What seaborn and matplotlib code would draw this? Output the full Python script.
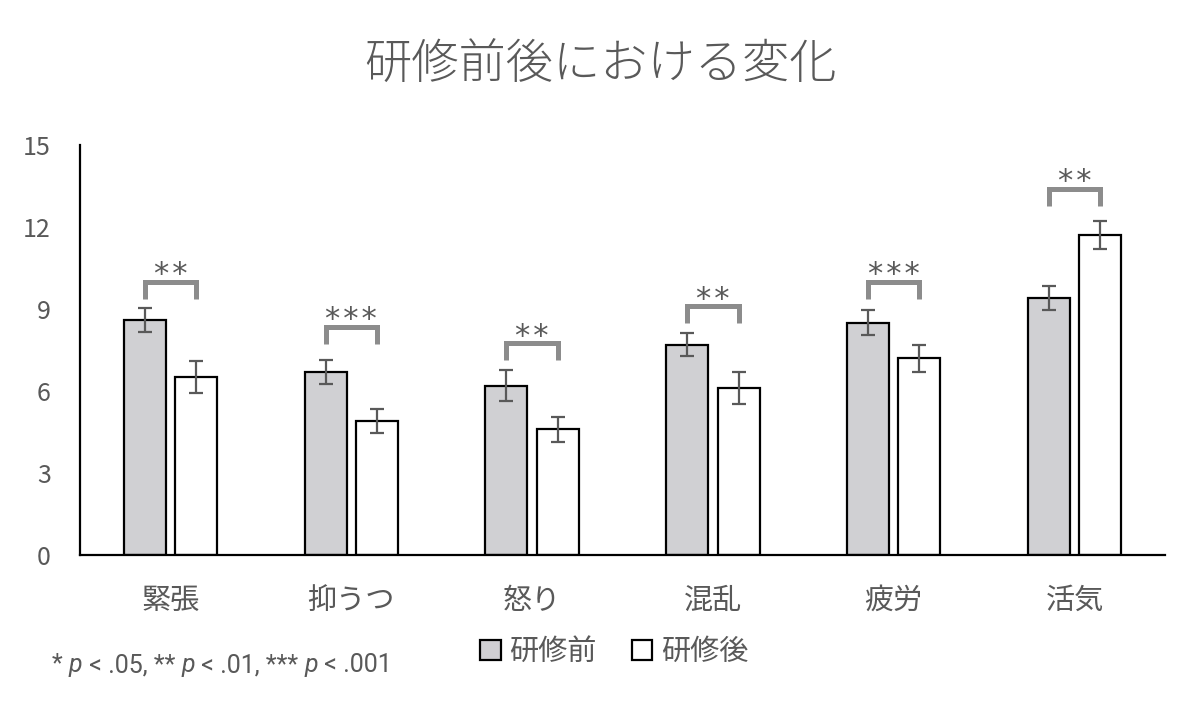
import matplotlib
matplotlib.use("Agg")
import matplotlib.pyplot as plt
import seaborn as sns
import pandas as pd
import numpy as np
from matplotlib.patches import Patch

# ---- data ----
categories = ["緊張", "抑うつ", "怒り", "混乱", "疲労", "活気"]
groups = ["研修前", "研修後"]
before_mean = [8.6, 6.7, 6.2, 7.7, 8.5, 9.4]
after_mean = [6.5, 4.9, 4.6, 6.1, 7.2, 11.7]
before_err = [0.44, 0.43, 0.55, 0.43, 0.45, 0.43]
after_err = [0.58, 0.45, 0.45, 0.58, 0.50, 0.52]
significance = ["**", "***", "**", "**", "***", "**"]
bracket_level = [10.0, 8.35, 7.75, 9.1, 10.0, 13.4]
yticks = [0, 3, 6, 9, 12, 15]
title = "研修前後における変化"
footnote_parts = ["* ", "p", " < .05, ** ", "p", " < .01, *** ", "p", " < .001"]

sns.set_theme(style="white")
plt.rcParams["font.family"] = ["Noto Sans CJK JP", "DejaVu Sans"]

TXT = "#595959"
GRAY_FILL = "#d0cfd3"

df = pd.DataFrame({
    "category": categories * 2,
    "group": [groups[0]] * len(categories) + [groups[1]] * len(categories),
    "value": before_mean + after_mean,
})

fig = plt.figure(figsize=(12, 7.22), dpi=100)
ax = fig.add_axes([0.0667, 0.2313, 0.9041, 0.5679])

sns.barplot(data=df, x="category", y="value", hue="group", order=categories,
            hue_order=groups, palette=[GRAY_FILL, "white"], width=0.57, gap=0.185,
            errorbar=None, edgecolor="black", linewidth=1.6, legend=False, ax=ax)

# bar centres from patches (first half = before, second half = after)
patches = [p for p in ax.patches if p.get_height() > 0]
n = len(categories)
bx = [p.get_x() + p.get_width() / 2 for p in patches[:n]]
ax_ = [p.get_x() + p.get_width() / 2 for p in patches[n:2 * n]]

ax.errorbar(bx, before_mean, yerr=before_err, fmt="none", ecolor="#595959",
            elinewidth=1.6, capsize=5, capthick=1.6, zorder=5)
ax.errorbar(ax_, after_mean, yerr=after_err, fmt="none", ecolor="#595959",
            elinewidth=1.6, capsize=5, capthick=1.6, zorder=5)

# significance brackets
for i in range(n):
    top = bracket_level[i]
    leg = top - 0.63
    ax.plot([bx[i], bx[i], ax_[i], ax_[i]], [leg, top, top, leg],
            color="#8c8c8c", lw=3.6, solid_joinstyle="miter", solid_capstyle="butt",
            zorder=5, clip_on=False)
    ax.text((bx[i] + ax_[i]) / 2, top - 0.06, "\u200a".join(significance[i]),
            ha="center", va="baseline", fontsize=22, color=TXT, family="DejaVu Sans")

ax.set_ylim(0, 15)
ax.set_xlim(-0.5, len(categories) - 0.5)
ax.set_yticks(yticks)
ax.set_yticklabels([str(t) for t in yticks], fontsize=18, color=TXT)
ax.tick_params(axis="y", direction="in", length=7, width=1.5, color="black", pad=21)
ax.tick_params(axis="x", length=0, pad=22, labelsize=21, labelcolor=TXT)
ax.set_xlabel("")
ax.set_ylabel("")
for s in ["top", "right"]:
    ax.spines[s].set_visible(False)
for s in ["left", "bottom"]:
    ax.spines[s].set_color("black")
    ax.spines[s].set_linewidth(1.6)

fig.text(0.5, 0.91, title, ha="center", va="center", fontsize=34, color=TXT,
         fontweight="light")

handles = [Patch(facecolor=GRAY_FILL, edgecolor="black", linewidth=1.6, label=groups[0]),
           Patch(facecolor="white", edgecolor="black", linewidth=1.6, label=groups[1])]
fig.legend(handles=handles, loc="center", bbox_to_anchor=(0.512, 0.097), ncol=2,
           frameon=False, fontsize=21, labelcolor=TXT, handlelength=0.7,
           handleheight=0.7, handletextpad=0.3, columnspacing=1.2)

# footnote with italic p
x0 = 52 / 1200
y0 = 1 - 665 / 722
renderer = fig.canvas.get_renderer()
xpos = x0
for part in footnote_parts:
    t = fig.text(xpos, y0, part, ha="left", va="center", fontsize=18, color=TXT,
                 family="Roboto", style="italic" if part == "p" else "normal")
    bb = t.get_window_extent(renderer=renderer)
    xpos += bb.width / fig.bbox.width

fig.savefig("out.png", dpi=100)
